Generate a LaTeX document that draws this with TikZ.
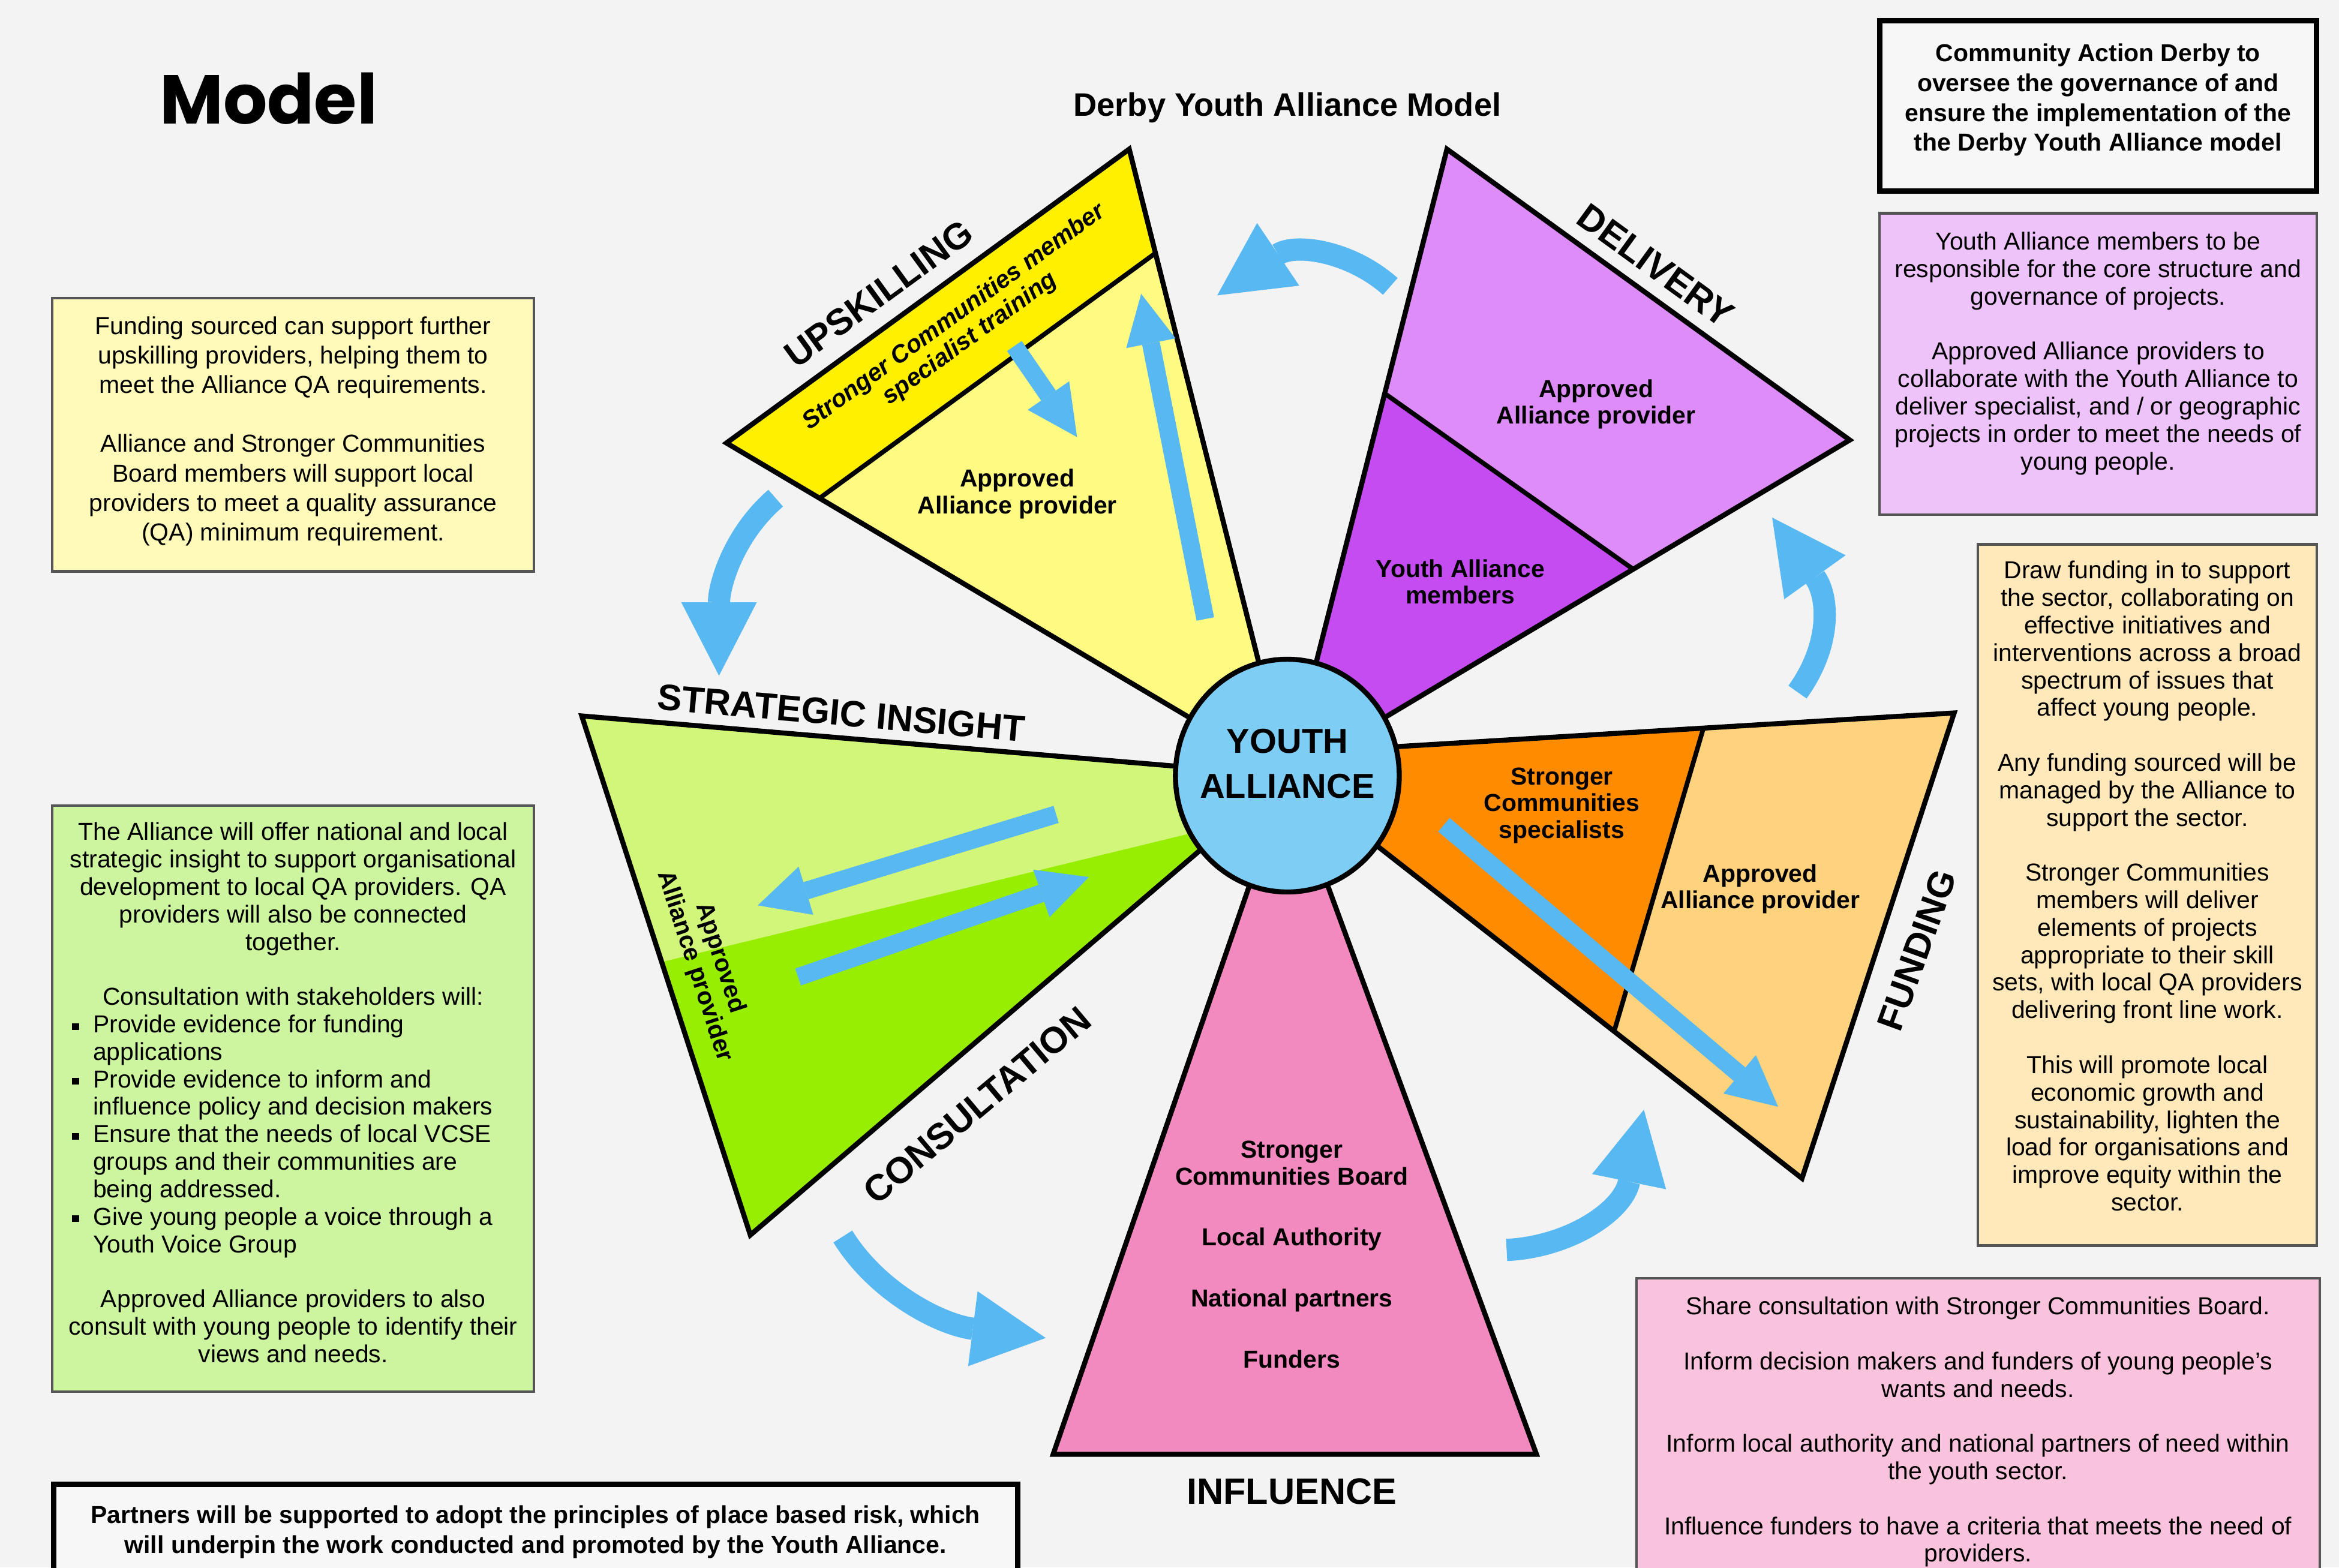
\documentclass[tikz,border=0pt]{standalone}
\usepackage{fontspec}
\setmainfont{Liberation Sans}
\newfontfamily\modelfont{Poppins}
\usetikzlibrary{calc,arrows.meta,shapes.geometric}

\definecolor{pagegray}{RGB}{243,243,243}
\definecolor{upband}{RGB}{255,240,0}
\definecolor{uplight}{RGB}{255,250,130}
\definecolor{delight}{RGB}{222,140,248}
\definecolor{dedark}{RGB}{196,76,240}
\definecolor{grlight}{RGB}{210,246,122}
\definecolor{grbright}{RGB}{152,238,0}
\definecolor{orlight}{RGB}{255,210,125}
\definecolor{ordark}{RGB}{255,140,0}
\definecolor{pkwedge}{RGB}{242,138,192}
\definecolor{hubblue}{RGB}{125,205,245}
\definecolor{flowblue}{RGB}{88,184,242}
\definecolor{boxyellow}{RGB}{255,250,185}
\definecolor{boxgreen}{RGB}{205,245,160}
\definecolor{boxpurple}{RGB}{238,195,250}
\definecolor{boxorange}{RGB}{255,232,185}
\definecolor{boxpink}{RGB}{249,195,222}
\definecolor{boxwhite}{RGB}{247,247,247}
\definecolor{boxline}{RGB}{85,85,85}

\newcommand{\bul}{\rule[0.22ex]{3.2pt}{3.2pt}}
\newcommand{\itemline}[1]{\makebox[18em][l]{\makebox[0.85em][l]{\bul}#1}}
\newcommand{\moreline}[1]{\makebox[18em][l]{\hspace*{0.85em}#1}}

\tikzset{
  wedgeline/.style={draw=black, line width=2.4pt},
  splitline/.style={draw=black, line width=2.2pt},
  caplabel/.style={font=\fontsize{17.5}{20}\selectfont\bfseries},
  innertext/.style={font=\fontsize{11.7}{12.8}\selectfont\bfseries, align=center},
  boxframe/.style={draw=boxline, line width=1.2pt, inner sep=0pt},
  blackframe/.style={draw=black, line width=2.6pt, inner sep=0pt},
  boxtext/.style={font=\fontsize{11.7}{13.1}\selectfont, align=center, inner sep=0pt},
  pusharrow/.style={draw=flowblue, line width=8.5pt, -{Triangle[length=24pt,width=24pt,line width=0pt]}},
  cyclearrow/.style={draw=flowblue, line width=10.6pt, -{Triangle[length=35pt,width=36pt,line width=0pt]}},
}

\begin{document}
\begin{tikzpicture}[x=0.025cm,y=-0.025cm]
\useasboundingbox (0,0) rectangle (1568,1051);
\clip (0,0) rectangle (1568,1051);
\fill[pagegray] (0,0) rectangle (1568,1051); % page

\node[font=\modelfont\bfseries\fontsize{33}{40}\selectfont] (model) at (180,66) {Model};
\node[font=\fontsize{15.5}{18}\selectfont\bfseries] (title) at (863,72) {Derby Youth Alliance Model};

% side boxes
\node[boxframe, fill=boxyellow, minimum width=8.075cm, minimum height=4.575cm] (upbox) at (196.5,291.5) {};
\node[boxtext, font=\fontsize{11.7}{14.07}\selectfont] (uptext) at (196.5,289) {Funding sourced can support further\\
  upskilling providers, helping them to\\
  meet the Alliance QA requirements.\\[14.07pt]
  Alliance and Stronger Communities\\
  Board members will support local\\
  providers to meet a quality assurance\\
  (QA) minimum requirement.};

\node[boxframe, fill=boxgreen, minimum width=8.075cm, minimum height=9.825cm] (strbox) at (196.5,736.5) {};
\node[boxtext] (strtext) at (196.5,732.5) {The Alliance will offer national and local\\
  strategic insight to support organisational\\
  development to local QA providers. QA\\
  providers will also be connected\\
  together.\\[13.1pt]
  Consultation with stakeholders will:\\
  \itemline{Provide evidence for funding}\\
  \moreline{applications}\\
  \itemline{Provide evidence to inform and}\\
  \moreline{influence policy and decision makers}\\
  \itemline{Ensure that the needs of local VCSE}\\
  \moreline{groups and their communities are}\\
  \moreline{being addressed.}\\
  \itemline{Give young people a voice through a}\\
  \moreline{Youth Voice Group}\\[13.1pt]
  Approved Alliance providers to also\\
  consult with young people to identify their\\
  views and needs.};

\node[blackframe, fill=boxwhite, minimum width=7.325cm, minimum height=2.85cm] (govbox) at (1406.5,71) {};
\node[boxtext, font=\fontsize{11.7}{14.2}\selectfont\bfseries] (govtext) at (1406.5,67) {Community Action Derby to\\
  oversee the governance of and\\
  ensure the implementation of the\\
  the Derby Youth Alliance model};

\node[boxframe, fill=boxpurple, minimum width=7.325cm, minimum height=5.05cm] (delbox) at (1406.5,244) {};
\node[boxtext] (deltext) at (1406.5,237) {Youth Alliance members to be\\
  responsible for the core structure and\\
  governance of projects.\\[13.1pt]
  Approved Alliance providers to\\
  collaborate with the Youth Alliance to\\
  deliver specialist, and / or geographic\\
  projects in order to meet the needs of\\
  young people.};

\node[boxframe, fill=boxorange, minimum width=5.675cm, minimum height=11.75cm] (fundbox) at (1439.5,600) {};
\node[boxtext] (fundtext) at (1439.5,594) {Draw funding in to support\\
  the sector, collaborating on\\
  effective initiatives and\\
  interventions across a broad\\
  spectrum of issues that\\
  affect young people.\\[13.1pt]
  Any funding sourced will be\\
  managed by the Alliance to\\
  support the sector.\\[13.1pt]
  Stronger Communities\\
  members will deliver\\
  elements of projects\\
  appropriate to their skill\\
  sets, with local QA providers\\
  delivering front line work.\\[13.1pt]
  This will promote local\\
  economic growth and\\
  sustainability, lighten the\\
  load for organisations and\\
  improve equity within the\\
  sector.};

\node[boxframe, fill=boxpink, minimum width=11.45cm, minimum height=5.325cm] (inflbox) at (1326,963.5) {};
\node[boxtext] (infltext) at (1326,960) {Share consultation with Stronger Communities Board.\\[13.1pt]
  Inform decision makers and funders of young people's\\
  wants and needs.\\[13.1pt]
  Inform local authority and national partners of need within\\
  the youth sector.\\[13.1pt]
  Influence funders to have a criteria that meets the need of\\
  providers.};

\node[blackframe, fill=boxwhite, minimum width=16.15cm, minimum height=1.75cm] (placebox) at (359,1030) {};
\node[boxtext, font=\fontsize{11.7}{14.2}\selectfont\bfseries] (placetext) at (359,1027) {Partners will be supported to adopt the principles of place based risk, which\\
  will underpin the work conducted and promoted by the Youth Alliance.};

% wedges round the hub
\coordinate (C) at (863,520);
\coordinate (U1) at (757,100);
\coordinate (U2) at (487,297);
\coordinate (U3) at ($(C)!0.834!(U1)$);
\coordinate (U4) at ($(C)!0.834!(U2)$);
\fill[uplight] (C) -- (U1) -- (U2) -- cycle; % upskilling
\fill[upband] (U3) -- (U1) -- (U2) -- (U4) -- cycle;
\draw[splitline] (U3) -- (U4);
\draw[wedgeline] (C) -- (U1) -- (U2) -- cycle;

\coordinate (D1) at (970,100);
\coordinate (D2) at (1240,295);
\coordinate (D3) at ($(C)!0.61!(D1)$);
\coordinate (D4) at ($(C)!0.615!(D2)$);
\fill[delight] (C) -- (D1) -- (D2) -- cycle; % delivery
\fill[dedark] (C) -- (D3) -- (D4) -- cycle;
\draw[splitline] (D3) -- (D4);
\draw[wedgeline] (C) -- (D1) -- (D2) -- cycle;

\coordinate (G1) at (390,480);
\coordinate (G2) at (503,828);
\coordinate (G3) at ($(G1)!0.474!(G2)$);
\coordinate (G4) at (805,557);
\fill[grbright] (C) -- (G1) -- (G2) -- cycle; % insight / consultation
\fill[grlight] (C) -- (G1) -- (G3) -- (G4) -- cycle;
\draw[wedgeline] (C) -- (G1) -- (G2) -- cycle;

\coordinate (I1) at (1030,975);
\coordinate (I2) at (706,975);
\draw[wedgeline, fill=pkwedge] (C) -- (I1) -- (I2) -- cycle; % influence

\coordinate (F0) at (863,505);
\coordinate (F1) at (1310,478);
\coordinate (F2) at (1208,790);
\coordinate (F3) at ($(F0)!0.624!(F1)$);
\coordinate (F4) at ($(C)!0.635!(F2)$);
\fill[orlight] (F0) -- (F1) -- (F2) -- (C) -- cycle; % funding
\fill[ordark] (F0) -- (F3) -- (F4) -- (C) -- cycle;
\draw[splitline] (F3) -- (F4);
\draw[wedgeline] (C) -- (F0) -- (F1) -- (F2) -- cycle;

% arrows inside the wedges
\coordinate (ys1) at (680,232);
\coordinate (ys2) at (722,293);
\coordinate (yl1) at (808,415);
\coordinate (yl2) at (765,197);
\coordinate (ga1) at (708,546);
\coordinate (ga2) at (508,607);
\coordinate (gb1) at (535,655);
\coordinate (gb2) at (730,588);
\coordinate (oa1) at (968,553);
\coordinate (oa2) at (1192,742);
\draw[pusharrow] (ys1) -- (ys2);
\draw[pusharrow] (yl1) -- (yl2);
\draw[pusharrow] (ga1) -- (ga2);
\draw[pusharrow] (gb1) -- (gb2);
\draw[pusharrow] (oa1) -- (oa2);

\node[ellipse, draw=black, line width=2.4pt, fill=hubblue, minimum width=3.75cm, minimum height=3.9cm, inner sep=0pt] (hub) at (C) {};
\node[font=\fontsize{16.5}{21.3}\selectfont\bfseries, align=center] (hubtext) at (863,512) {YOUTH\\ALLIANCE};

% wedge texts
\node[caplabel, rotate=36] (upskill) at (589,197) {UPSKILLING};
\node[innertext, font=\fontsize{11.7}{12.8}\selectfont\bfseries\itshape, rotate=36] (bandtext) at (645,220) {Stronger Communities member\\specialist training};
\node[innertext] (upprov) at (682,331) {Approved\\Alliance provider};
\node[caplabel, rotate=-36] (deliver) at (1110,178) {DELIVERY};
\node[innertext] (delprov) at (1070,271) {Approved\\Alliance provider};
\node[innertext] (members) at (979,390) {Youth Alliance\\members};
\node[caplabel, rotate=-5] (insight) at (564,478) {STRATEGIC INSIGHT};
\node[innertext, rotate=-72] (grprov) at (474,645) {Approved\\Alliance provider};
\node[caplabel, rotate=40] (consult) at (655,741) {CONSULTATION};
\node[innertext] (orspec) at (1047,540) {Stronger\\Communities\\specialists};
\node[innertext] (orprov) at (1180,596) {Approved\\Alliance provider};
\node[caplabel, rotate=70] (funding) at (1285,637) {FUNDING};
\node[innertext] (partners) at (866,841) {Stronger\\Communities Board\\[16.3pt]
  Local Authority\\[16.3pt] National partners\\[16.3pt] Funders};
\node[caplabel] (influence) at (866,1000) {INFLUENCE};

% cycle arrows between the wedges
\coordinate (t1) at (932,192);
\coordinate (h1) at (816,198);
\coordinate (t2) at (520,334);
\coordinate (h2) at (482,453);
\coordinate (t3) at (565,829);
\coordinate (h3) at (701,897);
\coordinate (t4) at (1010,838);
\coordinate (h4) at (1102,744);
\coordinate (t5) at (1205,464);
\coordinate (h5) at (1188,347);
\draw[cyclearrow] (t1) .. controls (905,168) and (868,163) .. (h1);
\draw[cyclearrow] (t2) .. controls (492,358) and (482,392) .. (h2);
\draw[cyclearrow] (t3) .. controls (588,866) and (630,888) .. (h3);
\draw[cyclearrow] (t4) .. controls (1052,836) and (1088,812) .. (h4);
\draw[cyclearrow] (t5) .. controls (1228,432) and (1226,400) .. (h5);
\end{tikzpicture}
\end{document}
